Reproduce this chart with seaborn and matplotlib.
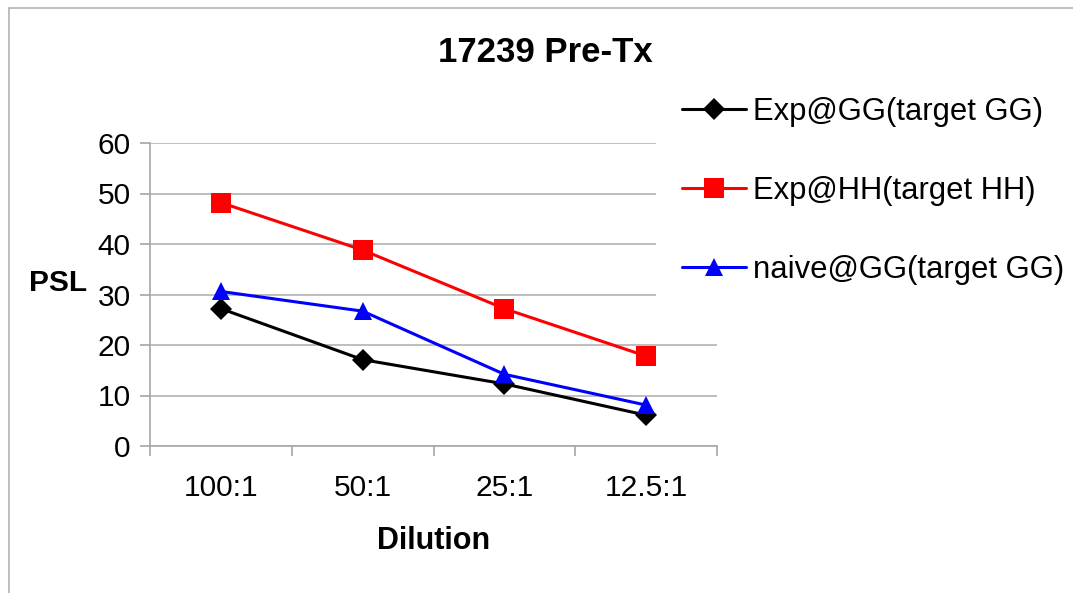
import matplotlib
matplotlib.use("Agg")
import matplotlib.pyplot as plt
from matplotlib.lines import Line2D
from matplotlib.ticker import FixedLocator
import seaborn as sns
import pandas as pd

# ---- data ----
dilution = ["100:1", "50:1", "25:1", "12.5:1"]
exp_gg = [27.2, 17.1, 12.3, 6.1]
exp_hh = [48.2, 38.8, 27.2, 17.8]
naive_gg = [30.6, 26.7, 14.2, 8.1]
series_names = ["Exp@GG(target GG)", "Exp@HH(target HH)", "naive@GG(target GG)"]
y_ticks = [0, 10, 20, 30, 40, 50, 60]

df = pd.DataFrame({
    "Dilution": dilution * 3,
    "PSL": exp_gg + exp_hh + naive_gg,
    "series": [series_names[0]] * 4 + [series_names[1]] * 4 + [series_names[2]] * 4,
})

sns.set_theme(style="white")
plt.rcParams["font.family"] = ["Liberation Sans", "DejaVu Sans"]
plt.rcParams["text.color"] = "black"
plt.rcParams["axes.labelcolor"] = "black"
plt.rcParams["xtick.labelcolor"] = "black"
plt.rcParams["ytick.labelcolor"] = "black"

W, H = 1073, 593
fig = plt.figure(figsize=(W / 100, H / 100), dpi=100)
ax = fig.add_axes([150 / W, 1 - 446 / H, 567 / W, 303 / H])

palette = {series_names[0]: "#000000", series_names[1]: "#ff0000", series_names[2]: "#0000ff"}
markers = {series_names[0]: "D", series_names[1]: "s", series_names[2]: "^"}
sizes = {series_names[0]: 11, series_names[1]: 14, series_names[2]: 13}

sns.lineplot(data=df, x="Dilution", y="PSL", hue="series", style="series",
             palette=palette, markers=markers, dashes=False, sort=False,
             linewidth=2.2, legend=False, ax=ax)

for line, name in zip(ax.get_lines(), series_names):
    c = palette[name]
    line.set_markeredgecolor(c)
    line.set_markerfacecolor(c)
    line.set_markersize(sizes[name])
    line.set_markeredgewidth(0)
    line.set_label(name)

ax.set_xlim(-0.5, 3.5)
ax.set_ylim(0, 60)
ax.set_yticks(y_ticks)
ax.yaxis.grid(True, color="#b3b3b3", linewidth=1.2)
ax.xaxis.grid(False)
ax.set_axisbelow(True)

for s in ["top", "right"]:
    ax.spines[s].set_visible(False)
for s in ["left", "bottom"]:
    ax.spines[s].set_color("#a6a6a6")
    ax.spines[s].set_linewidth(1.2)

ax.tick_params(axis="y", which="major", direction="out", length=7, width=1.2,
               color="#a6a6a6", pad=7, labelsize=21.5, labelcolor="black", left=True)
ax.tick_params(axis="x", which="major", length=0, pad=20, labelsize=21.5, labelcolor="black")
ax.xaxis.set_minor_locator(FixedLocator([-0.5, 0.5, 1.5, 2.5, 3.5]))
ax.tick_params(axis="x", which="minor", direction="out", length=7, width=1.2,
               color="#a6a6a6", bottom=True)

ax.set_xlabel("Dilution", fontsize=22, fontweight="bold", color="black")
ax.xaxis.set_label_coords(0.5, (446 - 541) / 303)
ax.xaxis.label.set_va("center")
ax.set_ylabel("PSL", fontsize=21.5, fontweight="bold", rotation=0, color="black")
ax.yaxis.set_label_coords((58 - 150) / 567, (446 - 283) / 303)
ax.yaxis.label.set_va("center")
ax.yaxis.label.set_ha("center")

fig.text(545 / W, 1 - 53 / H, "17239 Pre-Tx", fontsize=25, fontweight="bold",
         ha="center", va="center", color="black")

leg = ax.legend(handles=ax.get_lines(), labels=series_names, loc="upper left",
                bbox_to_anchor=(656 / W, 1 - 71 / H), bbox_transform=fig.transFigure,
                fontsize=22.3, frameon=True, facecolor="white", edgecolor="none",
                framealpha=1, fancybox=False, borderpad=0.85, labelspacing=1.57,
                handlelength=2.05, handletextpad=0.22, borderaxespad=0)
for t in leg.get_texts():
    t.set_color("black")

# outer border (left and top)
fig.add_artist(Line2D([9 / W, 9 / W], [0, 1 - 8 / H], transform=fig.transFigure,
                      color="#b3b3b3", linewidth=1.2))
fig.add_artist(Line2D([9 / W, 1], [1 - 8 / H, 1 - 8 / H], transform=fig.transFigure,
                      color="#b3b3b3", linewidth=1.2))

fig.savefig("out.png", dpi=100)
